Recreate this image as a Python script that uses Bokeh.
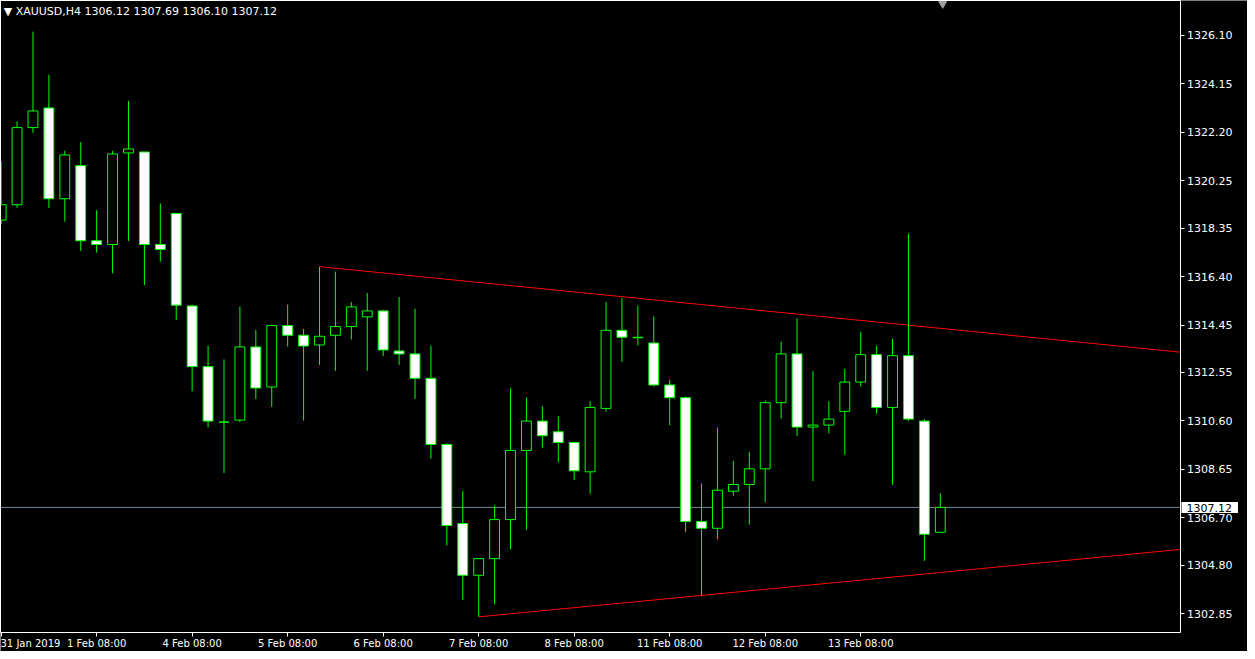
from bokeh.plotting import figure
from bokeh.models import Range1d, FixedTicker, Label, PrintfTickFormatter, LinearAxis
from bokeh.embed import file_html
from bokeh.resources import INLINE

# ---------------- data ----------------
symbol = "XAUUSD,H4"
opens = [1318.67, 1319.29, 1322.39, 1323.18, 1319.53, 1320.86, 1317.84, 1317.69, 1321.37, 1321.41,
         1317.69, 1318.94, 1315.22, 1312.78, 1310.55, 1310.63, 1313.57, 1311.96, 1314.43, 1314.04,
         1313.65, 1314.04, 1314.39, 1314.78, 1315.02, 1313.41, 1313.29, 1312.31, 1309.65, 1306.47,
         1304.39, 1305.06, 1306.63, 1309.41, 1310.59, 1310.16, 1309.73, 1308.55, 1311.10, 1314.24,
         1313.96, 1313.73, 1312.04, 1311.53, 1306.55, 1306.28, 1307.77, 1308.04, 1308.67, 1311.33,
         1313.29, 1310.35, 1310.43, 1310.98, 1312.16, 1313.26, 1311.14, 1313.22, 1310.59, 1306.12]
highs = [1321.03, 1322.64, 1326.25, 1324.52, 1321.46, 1321.81, 1319.07, 1321.46, 1323.46, 1321.41,
         1319.34, 1318.94, 1315.27, 1313.62, 1313.07, 1315.19, 1314.25, 1314.47, 1315.27, 1314.29,
         1316.80, 1316.60, 1315.38, 1315.74, 1315.07, 1315.58, 1315.11, 1313.62, 1309.70, 1307.78,
         1305.06, 1307.19, 1311.90, 1311.54, 1311.19, 1310.80, 1309.76, 1311.39, 1315.38, 1315.54,
         1315.23, 1314.80, 1312.25, 1311.58, 1308.08, 1310.33, 1308.99, 1309.35, 1311.42, 1313.78,
         1314.72, 1312.60, 1311.39, 1312.68, 1314.17, 1313.62, 1313.90, 1318.13, 1310.67, 1307.69]
lows = [1318.52, 1319.16, 1322.18, 1319.16, 1318.61, 1317.43, 1317.36, 1316.53, 1317.83, 1316.06,
        1317.00, 1314.65, 1311.79, 1310.34, 1308.50, 1310.55, 1311.48, 1311.16, 1313.59, 1310.61,
        1312.85, 1312.61, 1313.87, 1312.61, 1313.20, 1312.85, 1311.48, 1309.08, 1305.59, 1303.40,
        1302.72, 1303.23, 1305.44, 1306.22, 1309.52, 1308.93, 1308.22, 1307.67, 1310.97, 1312.97,
        1313.63, 1311.98, 1310.42, 1306.14, 1303.59, 1305.83, 1307.59, 1306.42, 1307.32, 1310.69,
        1309.99, 1308.18, 1310.10, 1309.24, 1311.98, 1310.89, 1308.03, 1310.59, 1304.97, 1306.10]
closes = [1319.29, 1322.39, 1323.06, 1319.53, 1321.29, 1317.84, 1317.69, 1321.33, 1321.53, 1317.69,
          1317.49, 1315.25, 1312.78, 1310.59, 1310.55, 1313.57, 1311.92, 1314.43, 1314.04, 1313.61,
          1314.00, 1314.39, 1315.18, 1315.02, 1313.45, 1313.29, 1312.31, 1309.65, 1306.39, 1304.39,
          1305.06, 1306.63, 1309.41, 1310.59, 1310.00, 1309.73, 1308.59, 1311.14, 1314.24, 1313.96,
          1313.94, 1312.04, 1311.53, 1306.55, 1306.28, 1307.81, 1308.04, 1308.67, 1311.33, 1313.29,
          1310.35, 1310.43, 1310.67, 1312.16, 1313.26, 1311.14, 1313.22, 1310.67, 1306.04, 1307.12]

price_ticks = [1302.85, 1304.80, 1306.70, 1308.65, 1310.60, 1312.55, 1314.45,
               1316.40, 1318.35, 1320.25, 1322.20, 1324.15, 1326.10]
time_tick_bars = [0, 6, 12, 18, 24, 30, 36, 42, 48, 54]
time_tick_labels = ["31 Jan 2019", "1 Feb 08:00", "4 Feb 08:00", "5 Feb 08:00", "6 Feb 08:00",
                    "7 Feb 08:00", "8 Feb 08:00", "11 Feb 08:00", "12 Feb 08:00", "13 Feb 08:00"]

upper_trend_bars = [20, 74.09]
upper_trend_prices = [1316.80, 1313.36]
lower_trend_bars = [30, 74.09]
lower_trend_prices = [1302.72, 1305.43]

# ---------------- layout constants ----------------
W, H = 1247, 651
CHART_W, CHART_H = 1180, 632        # candle area; the scales sit right of / below it
X0, X1 = -0.04, 74.09               # bar range of the candle area
Y0, Y1 = 1302.09, 1327.50           # price range of the candle area
XR = X0 + (X1 - X0) * W / CHART_W   # frame also spans the price-scale strip
YB = Y1 - (Y1 - Y0) * H / CHART_H   # and the time-scale strip
FONT = "DejaVu Sans"
GREEN = "#00FF00"
WHITE = "white"

p = figure(width=W, height=H, x_range=Range1d(X0, XR), y_range=Range1d(YB, Y1),
           x_axis_location=None, y_axis_location=None,
           output_backend="svg", toolbar_location=None,
           background_fill_color="black", border_fill_color="black",
           min_border_left=0, min_border_top=0, min_border_right=0, min_border_bottom=0,
           outline_line_color=None)
p.grid.visible = False

idx = list(range(len(opens)))
tops = [max(o, c) for o, c in zip(opens, closes)]
bots = [min(o, c) for o, c in zip(opens, closes)]
fills = ["black" if c >= o else "white" for o, c in zip(opens, closes)]

# trend lines
p.line(upper_trend_bars, upper_trend_prices, line_color="red", line_width=1)
p.line(lower_trend_bars, lower_trend_prices, line_color="red", line_width=1)

# current price line (limited to the candle area)
p.segment(x0=[X0], y0=[closes[-1]], x1=[X1], y1=[closes[-1]], line_color="#778899", line_width=1)

# candles
p.segment(x0=idx, y0=lows, x1=idx, y1=highs, line_color=GREEN, line_width=1)
p.vbar(x=idx, width=0.62, top=tops, bottom=bots, fill_color=fills, line_color=GREEN, line_width=1)

# chart shift marker
p.scatter(x=[59.15], y=[Y1 - 0.13], marker="inverted_triangle", size=8,
          fill_color="#a0a0a0", line_color="#a0a0a0")

# price scale at the right edge of the candle area, labels to its right
ya = LinearAxis(fixed_location=X1, bounds=(Y0, Y1), ticker=FixedTicker(ticks=price_ticks),
                formatter=PrintfTickFormatter(format="%.2f"),
                axis_line_color=WHITE, major_tick_line_color=WHITE,
                major_tick_in=4, major_tick_out=0, minor_tick_line_color=None,
                major_label_text_color=WHITE, major_label_text_font=FONT,
                major_label_text_font_size="11px", major_label_standoff=-52)
p.add_layout(ya, "left")

# left border of the candle area
p.add_layout(LinearAxis(ticker=FixedTicker(ticks=[]), bounds=(Y0, Y1), axis_line_color=WHITE,
                        major_tick_line_color=None, minor_tick_line_color=None,
                        major_label_standoff=0), "left")
# top border of the candle area
p.add_layout(LinearAxis(ticker=FixedTicker(ticks=[]), bounds=(X0, X1), axis_line_color=WHITE,
                        major_tick_line_color=None, minor_tick_line_color=None,
                        major_label_standoff=0), "above")

# time scale at the bottom edge of the candle area, labels below it
xa = LinearAxis(fixed_location=Y0, bounds=(X0, X1), ticker=FixedTicker(ticks=time_tick_bars),
                major_label_overrides={b: t for b, t in zip(time_tick_bars, time_tick_labels)},
                axis_line_color=WHITE, major_tick_line_color=WHITE,
                major_tick_in=4, major_tick_out=0, minor_tick_line_color=None,
                major_label_text_color=WHITE, major_label_text_font=FONT,
                major_label_text_font_size="10px", major_label_standoff=-16)
p.add_layout(xa, "above")

# header
header = "\u25BC %s  %.2f %.2f %.2f %.2f" % (symbol, opens[-1], highs[-1], lows[-1], closes[-1])
p.add_layout(Label(x=X0 + 0.2, y=Y1 - 0.2, text=header, text_color=WHITE,
                   text_font=FONT, text_font_size="11px", text_baseline="top"))

# current price tag
p.add_layout(Label(x=X1, y=closes[-1], x_offset=1, text="%.2f" % closes[-1],
                   text_color="black", text_font=FONT, text_font_size="11px",
                   text_align="left", text_baseline="middle", background_fill_color=WHITE,
                   padding=dict(left=5, right=6, top=2, bottom=1)))

open("out.html", "w").write(file_html(p, INLINE))
